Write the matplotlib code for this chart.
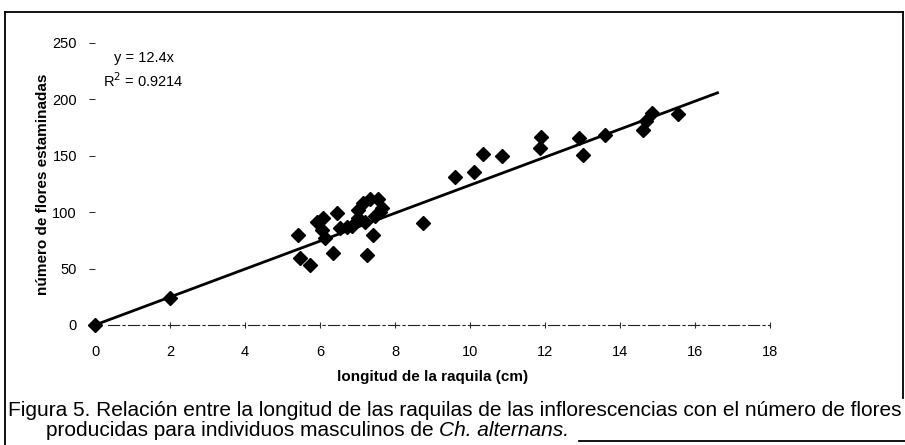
import numpy as np
import matplotlib
matplotlib.use("Agg")
from matplotlib import pyplot as plt
from matplotlib.lines import Line2D

plt.rcParams['font.family'] = ['Liberation Sans', 'DejaVu Sans']

# longitud de la raquila (cm) vs numero de flores estaminadas
longitud = [0, 2, 5.41, 5.47, 5.73, 5.92, 6.08, 6.05, 6.13, 6.45, 6.35, 6.53,
            6.72, 6.85, 7.0, 7.0, 7.15, 7.33, 7.25, 7.41, 7.2, 7.55, 7.6, 7.47,
            7.65, 8.75, 9.6, 10.1, 10.35, 10.85, 11.87, 11.9, 12.9, 13.0, 13.6,
            14.6, 14.7, 14.85, 15.55]
flores = [0, 24, 80, 59, 53, 91, 95, 84, 77, 99, 64, 86,
          87, 88, 95, 102, 108, 112, 62, 80, 91, 112, 100, 97,
          104, 90, 131, 136, 152, 150, 157, 167, 166, 151, 168,
          173, 181, 188, 187]
pendiente = 12.4
r2 = 0.9214
x_ticks = [0, 2, 4, 6, 8, 10, 12, 14, 16, 18]
y_ticks = [0, 50, 100, 150, 200, 250]

W, H = 905, 445
fig = plt.figure(figsize=(W / 100, H / 100), dpi=100)

def px(x, y):
    return x / W, 1 - y / H

def hline(x0, y0, x1, y1):
    a, b = px(x0, y0)
    c, d = px(x1, y1)
    fig.add_artist(Line2D([a, c], [b, d], transform=fig.transFigure,
                          color='black', lw=1.3))

# axes: x=0 at px 95, x=18 at px 770; y=0 at px 325, y=250 at px 43
ax = fig.add_axes([95 / W, (H - 325) / H, (770 - 95) / W, (325 - 43) / H])
ax.set_xlim(0, 18)
ax.set_ylim(0, 250)

# regression line
xl = np.array([0, 16.6])
ax.plot(xl, pendiente * xl, color='black', lw=2, clip_on=False, zorder=3)

ax.plot(longitud, flores, ls='none', marker='D', ms=7, color='black',
        clip_on=False, zorder=4)

ax.text(1.3, 237, 'y = 12.4x', ha='center', va='center', fontsize=10.5)
ax.text(1.3, 217, 'R$^2$ = %.4f' % r2, ha='center', va='center', fontsize=10.5)

for s in ['top', 'right', 'left']:
    ax.spines[s].set_visible(False)
ax.spines['bottom'].set_bounds(0.35, 18)
ax.spines['bottom'].set_linestyle((0, (10, 3, 2, 3)))
ax.spines['bottom'].set_color('#222222')

ax.set_xticks(x_ticks)
ax.set_yticks(y_ticks)
ax.tick_params(axis='x', direction='inout', length=5, width=0.8, pad=12,
               labelsize=10.5, color='#333333')
ax.tick_params(axis='y', direction='out', length=4, width=0.8, pad=9,
               labelsize=10.5, color='#333333')

ax.set_xlabel('longitud de la raquila (cm)', fontsize=11, fontweight='bold',
              labelpad=8)
ax.set_ylabel('número de flores estaminadas', fontsize=11, fontweight='bold',
              labelpad=2)

# frame around the figure
hline(5, 12, 903, 12)
hline(5, 12, 5, 445)
hline(903, 12, 903, 398)

cap = 15
fig.text(*px(8, 411), 'Figura 5. Relación entre la longitud de las raquilas de las '
         'inflorescencias con el número de flores', fontsize=cap, va='center')
base = fig.text(*px(46, 430), 'producidas para individuos masculinos de ',
                fontsize=cap, va='center')
# italic species name right after the second line
fig.canvas.draw()
r = fig.canvas.get_renderer()
bb = base.get_window_extent(r)
sp = fig.text(bb.x1 / W, 1 - 430 / H, 'Ch. alternans.', fontsize=cap,
              va='center', style='italic')
bb2 = sp.get_window_extent(r)
hline(bb2.x1 + 10, 441, 905, 441)

fig.savefig('out.png', dpi=100)
